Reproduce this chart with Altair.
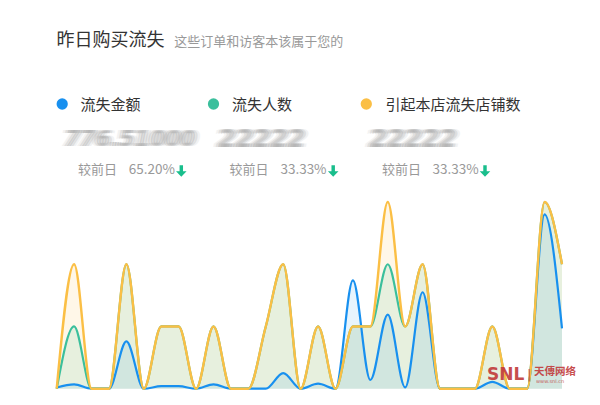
import altair as alt
import pandas as pd

# ---------------- data ----------------
days = list(range(30))
amount = [0.02, 0.07, 0, 0, 0.76, 0, 0.04, 0.04, 0, 0.07, 0, 0, 0, 0.25, 0,
          0.08, 0, 1.74, 0.14, 1.19, 0.02, 1.55, 0, 0, 0, 0.11, 0, 0, 2.8, 0.97]
people = [0, 1, 0, 0, 2, 0, 1, 1, 0, 1, 0, 0, 1, 2, 0,
          1, 0, 1, 1, 2, 1, 2, 0, 0, 0, 1, 0, 0, 3, 2]
shops = [0, 2, 0, 0, 2, 0, 1, 1, 0, 1, 0, 0, 1, 2, 0,
         1, 0, 1, 1, 3, 1, 2, 0, 0, 0, 1, 0, 0, 3, 2]

series_names = ["流失金额", "流失人数", "引起本店流失店铺数"]
series_colors = ["#1890ef", "#3bbf9c", "#fbbf45"]
blurred_values = ["776.51000", "22222", "22222"]
change_labels = ["较前日", "较前日", "较前日"]
change_values = ["65.20%", "33.33%", "33.33%"]

title_text = "昨日购买流失"
subtitle_text = "这些订单和访客本该属于您的"

FONT = "Noto Sans CJK SC"

rows = []
for name, vals in zip(series_names, [amount, people, shops]):
    for d, v in zip(days, vals):
        rows.append({"day": d, "value": v, "series": name})
df = pd.DataFrame(rows)

hdr = pd.DataFrame({
    "name": series_names,
    "color": series_colors,
    "blur": blurred_values,
    "cmp": change_labels,
    "pct": change_values,
})
# layout positions (pixels, relative to the chart's origin)
hdr["cx"] = [54.2, 205.5, 358.3]
hdr["lx"] = [72.6, 224.1, 377.4]
hdr["bx"] = [57.0, 210.0, 361.5]
hdr["bfs"] = [22.0, 25.0, 25.0]
hdr["cmpx"] = [69.9, 221.4, 374.0]
hdr["px"] = [120.8, 272.4, 424.6]
hdr["ax"] = [173.3, 325.2, 477.0]

xs = alt.Scale(domain=[0, 29], range=[48.7, 554])
ys = alt.Scale(domain=[0, 3], range=[380.7, 194])

base = alt.Chart(df)


def area(name, color, op):
    return base.transform_filter(alt.datum.series == name).mark_area(
        interpolate="monotone", color=color, opacity=op
    ).encode(
        x=alt.X("day:Q", scale=xs, axis=None),
        y=alt.Y("value:Q", scale=ys, axis=None),
    )


def line(name, color, w):
    return base.transform_filter(alt.datum.series == name).mark_line(
        interpolate="monotone", color=color, strokeWidth=w
    ).encode(
        x=alt.X("day:Q", scale=xs, axis=None),
        y=alt.Y("value:Q", scale=ys, axis=None),
    )


layers = [
    area(series_names[2], series_colors[2], 0.12),
    area(series_names[1], series_colors[1], 0.12),
    area(series_names[0], series_colors[0], 0.1),
    line(series_names[0], series_colors[0], 2.2),
    line(series_names[1], series_colors[1], 2.2),
    line(series_names[2], series_colors[2], 2.4),
]

hb = alt.Chart(hdr)

# title / subtitle
title = alt.Chart(pd.DataFrame({"t": [title_text]})).mark_text(
    align="left", baseline="middle", font=FONT, fontSize=18, color="#333333"
).encode(x=alt.value(48.5), y=alt.value(33), text="t:N")
subtitle = alt.Chart(pd.DataFrame({"t": [subtitle_text]})).mark_text(
    align="left", baseline="middle", font=FONT, fontSize=13, color="#999999"
).encode(x=alt.value(166.3), y=alt.value(34), text="t:N")

circles = hb.mark_circle(size=127, opacity=1).encode(
    x=alt.X("cx:Q", scale=None), y=alt.value(96),
    color=alt.Color("color:N", scale=None),
)
labels = hb.mark_text(
    align="left", baseline="middle", font=FONT, fontSize=15, color="#333333"
).encode(x=alt.X("lx:Q", scale=None), y=alt.value(96.5), text="name:N")

# blurred (obscured) totals: several faint offset copies give a motion-blur look
blur_layers = []
for dx, op in [(-5, 0.10), (-2.5, 0.18), (0, 0.26), (2.5, 0.18), (5, 0.10)]:
    blur_layers.append(
        hb.mark_text(
            align="left", baseline="middle", font="DejaVu Sans",
            fontStyle="italic", fontWeight="bold", color="#8c8c8c",
            opacity=op, dx=dx,
        ).encode(
            x=alt.X("bx:Q", scale=None), y=alt.value(130.5), text="blur:N",
            size=alt.Size("bfs:Q", scale=None),
        )
    )

cmp_text = hb.mark_text(
    align="left", baseline="middle", font=FONT, fontSize=13, color="#999999"
).encode(x=alt.X("cmpx:Q", scale=None), y=alt.value(162), text="cmp:N")
pct_text = hb.mark_text(
    align="left", baseline="middle", font=FONT, fontSize=13.5, color="#999999"
).encode(x=alt.X("px:Q", scale=None), y=alt.value(162), text="pct:N")

ARROW = "M-0.3,-1 L0.3,-1 L0.3,0.05 L0.92,0.05 L0,1 L-0.92,0.05 L-0.3,0.05 Z"
arrow = hb.mark_point(
    shape=ARROW, filled=True, size=132, color="#19be8c", opacity=1,
).encode(x=alt.X("ax:Q", scale=None), y=alt.value(163))

# watermark
wm1 = alt.Chart(pd.DataFrame({"t": ["SNL"]})).mark_text(
    align="left", baseline="middle", font="DejaVu Sans", fontSize=17,
    fontWeight="bold", color="#c23a3a", opacity=0.9,
).encode(x=alt.value(479), y=alt.value(367), text="t:N")
wm2 = alt.Chart(pd.DataFrame({"t": ["|"]})).mark_text(
    align="left", baseline="middle", font="DejaVu Sans", fontSize=13,
    color="#c23a3a", opacity=0.8,
).encode(x=alt.value(519), y=alt.value(367), text="t:N")
wm3 = alt.Chart(pd.DataFrame({"t": ["天傳网络"]})).mark_text(
    align="left", baseline="middle", font=FONT, fontSize=10.5,
    fontWeight="bold", color="#c23a3a", opacity=0.9,
).encode(x=alt.value(526), y=alt.value(364), text="t:N")
wm4 = alt.Chart(pd.DataFrame({"t": ["www.snl.cn"]})).mark_text(
    align="left", baseline="middle", font="DejaVu Sans", fontSize=5,
    color="#c23a3a", opacity=0.8,
).encode(x=alt.value(528), y=alt.value(373), text="t:N")

chart = alt.layer(
    *layers, title, subtitle, circles, labels, *blur_layers,
    cmp_text, pct_text, arrow, wm1, wm2, wm3, wm4,
).properties(
    width=584, height=389,
    autosize=alt.AutoSizeParams(type="none"),
    padding={"left": 0, "top": 0, "right": 0, "bottom": 0},
    background="white",
).configure_view(stroke=None)

chart.save("out.html", embed_options={"renderer": "svg", "actions": False})
